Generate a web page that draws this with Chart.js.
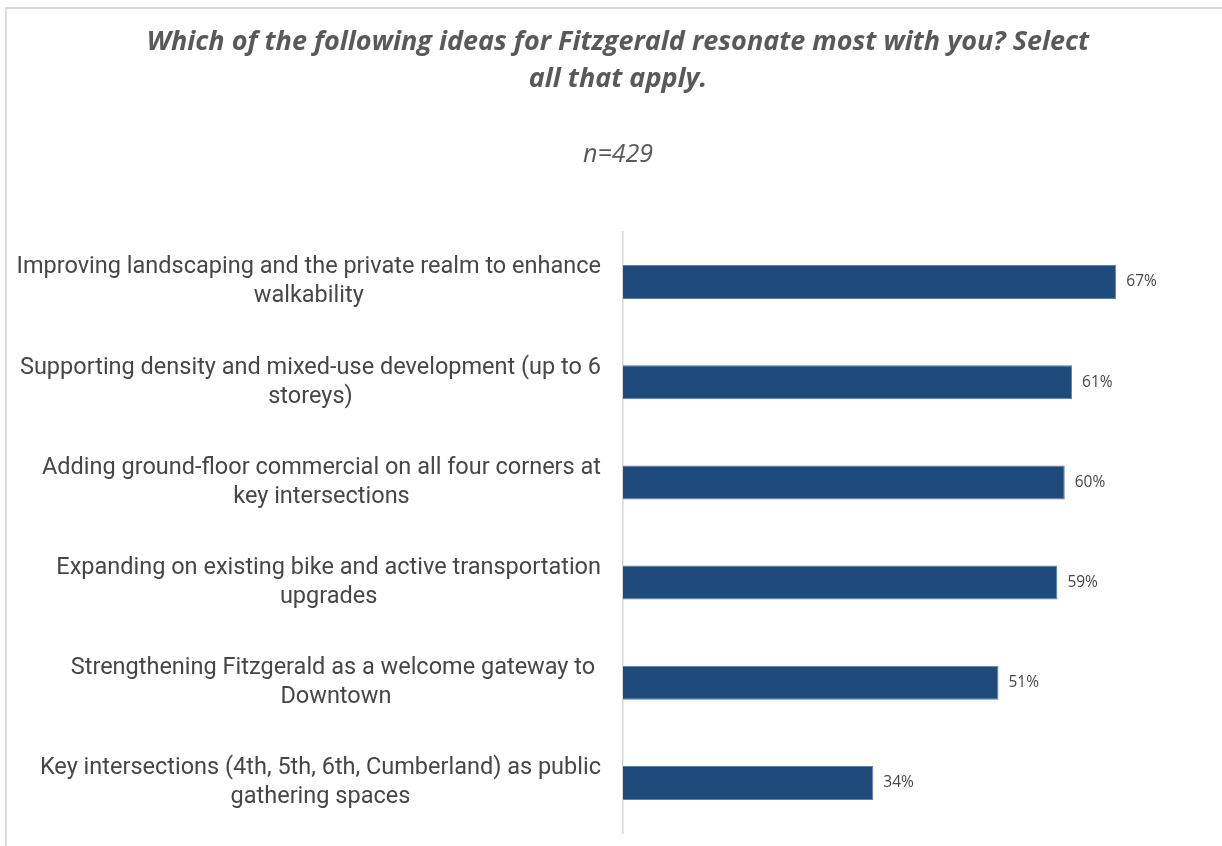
<!DOCTYPE html>
<html>
<head>
<meta charset="utf-8">
<title>Fitzgerald ideas</title>
<script src="https://cdn.jsdelivr.net/npm/chart.js@4.4.1/dist/chart.umd.min.js"></script>
<style>
  html, body { margin: 0; padding: 0; background: #fff; }
  #wrap { width: 1222px; height: 846px; position: relative; }
</style>
</head>
<body>
<div id="wrap"><canvas id="ideasChart" width="1222" height="846"></canvas></div>
<script>
const titleLines = ['Which of the following ideas for Fitzgerald resonate most with you? Select', 'all that apply.'];
const subtitleText = 'n=429';

// each answer is split into the lines it wraps onto
const ideas = [
  ['Improving landscaping and the private realm to enhance', 'walkability'],
  ['Supporting density and mixed-use development (up to 6', 'storeys)'],
  ['Adding ground-floor commercial on all four corners at', 'key intersections'],
  ['Expanding on existing bike and active transportation', 'upgrades'],
  ['Strengthening Fitzgerald as a welcome gateway to ', 'Downtown'],
  ['Key intersections (4th, 5th, 6th, Cumberland) as public', 'gathering spaces']
];
const shares = [67, 61, 60, 59, 51, 34];

const barColor = '#1f4a7c';
const textColor = '#464646';

// light frame along the top and left edge
const framePlugin = {
  id: 'frame',
  beforeDraw(chart) {
    const ctx = chart.ctx;
    ctx.save();
    ctx.strokeStyle = '#dadada';
    ctx.lineWidth = 2;
    ctx.beginPath();
    ctx.moveTo(6, chart.height);
    ctx.lineTo(6, 8);
    ctx.lineTo(chart.width, 8);
    ctx.stroke();
    ctx.restore();
  }
};

// category labels: block right aligned to the axis, lines centred inside it
const ideaLabels = {
  id: 'ideaLabels',
  afterDraw(chart) {
    const ctx = chart.ctx;
    const y = chart.scales.y;
    const lineH = 29;
    ctx.save();
    ctx.font = '23.5px Roboto';
    ctx.fillStyle = textColor;
    ctx.textAlign = 'center';
    ctx.textBaseline = 'middle';
    ideas.forEach((lines, i) => {
      const widest = Math.max(...lines.map(l => ctx.measureText(l).width));
      const right = y.right - 22;
      const cx = right - widest / 2;
      const cy = y.getPixelForTick(i);
      const top = cy - (lines.length - 1) * lineH / 2;
      lines.forEach((l, j) => ctx.fillText(l, cx, top + j * lineH));
    });
    ctx.restore();
  }
};

// percentage next to the end of each bar
const valueLabels = {
  id: 'valueLabels',
  afterDatasetsDraw(chart) {
    const ctx = chart.ctx;
    const meta = chart.getDatasetMeta(0);
    ctx.save();
    ctx.font = '15.5px "Open Sans"';
    ctx.fillStyle = textColor;
    ctx.textAlign = 'left';
    ctx.textBaseline = 'middle';
    meta.data.forEach((bar, i) => {
      ctx.fillText(shares[i] + '%', bar.x + 10, bar.y);
    });
    ctx.restore();
  }
};

new Chart(document.getElementById('ideasChart'), {
  type: 'bar',
  data: {
    labels: ideas,
    datasets: [{
      data: shares,
      backgroundColor: barColor,
      borderColor: '#5d80aa',
      borderWidth: 1,
      categoryPercentage: 1,
      barPercentage: 0.34
    }]
  },
  options: {
    indexAxis: 'y',
    responsive: false,
    animation: false,
    layout: { padding: { left: 24, right: 10, top: 0, bottom: 13 } },
    plugins: {
      legend: { display: false },
      tooltip: { enabled: false },
      title: {
        display: true,
        text: titleLines,
        color: '#595959',
        font: { family: '"Open Sans"', size: 27, weight: 'bold', style: 'italic', lineHeight: 1.37 },
        padding: { top: 24, bottom: 42 }
      },
      subtitle: {
        display: true,
        text: subtitleText,
        color: '#595959',
        font: { family: '"Open Sans"', size: 25, style: 'italic', lineHeight: 1.2 },
        padding: { top: 0, bottom: 62 }
      }
    },
    scales: {
      x: {
        min: 0,
        max: 80,
        display: false
      },
      y: {
        grid: { display: false },
        border: { display: true, color: '#d6d6d6', width: 1.5 },
        ticks: { display: false },
        afterFit(scale) { scale.width = 599; }
      }
    }
  },
  plugins: [framePlugin, ideaLabels, valueLabels]
});
</script>
</body>
</html>
